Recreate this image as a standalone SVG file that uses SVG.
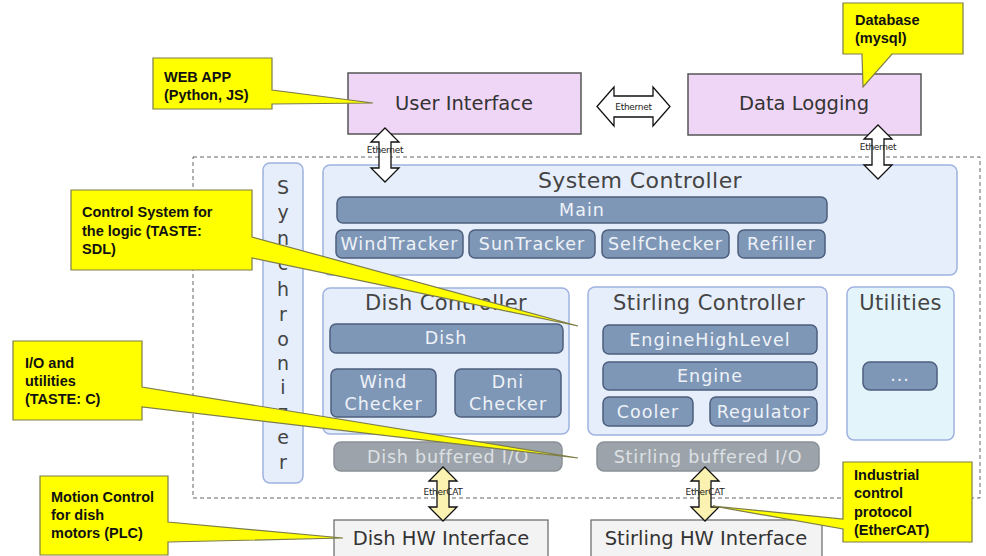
<svg xmlns="http://www.w3.org/2000/svg" xmlns:xlink="http://www.w3.org/1999/xlink" width="986" height="556" viewBox="0 0 986 556">
  <style>
    text { font-family: "DejaVu Sans", Verdana, sans-serif; }
    .app { fill: #f0d6f6; stroke: #555; stroke-width: 1.5; }
    .appText { font-size: 19.5px; fill: #333; text-anchor: middle; }
    .group { fill: #e6eefb; stroke: #9fb2e0; stroke-width: 1.5; }
    .util { fill: #e3f5fa; stroke: #9fb2e0; stroke-width: 1.5; }
    .title { font-size: 21px; fill: #444; text-anchor: middle; letter-spacing: 0.4px; }
    .bar { fill: #7f97b7; stroke: #4d5f7d; stroke-width: 1.5; }
    .barText { font-size: 17.5px; fill: #eef2f8; text-anchor: middle; letter-spacing: 1px; }
    .io { fill: #9da3aa; stroke: #8b9197; stroke-width: 1.5; }
    .ioText { font-size: 17.5px; fill: #dde1e5; text-anchor: middle; letter-spacing: 0.8px; }
    .hw { fill: #f3f3f3; stroke: #666; stroke-width: 1.2; }
    .hwText { font-size: 19.5px; fill: #333; text-anchor: middle; }
    .sync { font-size: 19px; fill: #444; text-anchor: middle; }
    .boundary { fill: none; stroke: #666; stroke-width: 1; stroke-dasharray: 4 3; }
    .eth { fill: #ffffff; stroke: #111; stroke-width: 1.3; }
    .cat { fill: #fbf2b2; stroke: #111; stroke-width: 1.3; }
    .linkLabel { font-size: 9px; fill: #222; text-anchor: middle; letter-spacing: -0.3px; }
    .note { fill: #ffff00; stroke: #7d7d4a; stroke-width: 1.2; stroke-linejoin: miter; }
    .noteText { font-family: "Liberation Sans", Arial, sans-serif; font-weight: bold; font-size: 14.5px; fill: #111; }
  </style>
  <defs>
    <!-- vertical two-way block arrow, 54 px long, centred on x=0 -->
    <path id="vArrow" d="M0,0 L14,14 L6,14 L6,40 L14,40 L0,54 L-14,40 L-6,40 L-6,14 L-14,14 Z"/>
  </defs>

  <rect width="986" height="556" fill="#ffffff"/>

  <!-- on-board software boundary -->
  <rect class="boundary" x="193" y="157" width="787" height="341"/>

  <!-- applications -->
  <g id="user-interface">
    <rect class="app" x="348" y="73" width="233" height="61"/>
    <text class="appText" x="464" y="110">User Interface</text>
  </g>
  <g id="data-logging">
    <rect class="app" x="688" y="74" width="233" height="61"/>
    <text class="appText" x="804" y="110">Data Logging</text>
  </g>

  <!-- synchronizer column -->
  <g id="synchronizer">
    <rect class="group" x="263" y="163" width="40" height="320" rx="7"/>
    <text class="sync" x="283" y="194">S</text>
    <text class="sync" x="283" y="219">y</text>
    <text class="sync" x="283" y="245">n</text>
    <text class="sync" x="283" y="270">c</text>
    <text class="sync" x="283" y="296">h</text>
    <text class="sync" x="283" y="321">r</text>
    <text class="sync" x="283" y="346">o</text>
    <text class="sync" x="283" y="370">n</text>
    <text class="sync" x="283" y="394">i</text>
    <text class="sync" x="283" y="419">z</text>
    <text class="sync" x="283" y="444">e</text>
    <text class="sync" x="283" y="469">r</text>
  </g>

  <!-- system controller -->
  <g id="system-controller">
    <rect class="group" x="323" y="165" width="634" height="110" rx="7"/>
    <text class="title" x="640" y="188" style="font-size:22px">System Controller</text>
    <g id="main">
      <rect class="bar" x="337" y="197" width="490" height="26" rx="6"/>
      <text class="barText" x="582" y="216">Main</text>
    </g>
    <g id="wind-tracker">
      <rect class="bar" x="336" y="230" width="127" height="28" rx="6"/>
      <text class="barText" x="399.5" y="250">WindTracker</text>
    </g>
    <g id="sun-tracker">
      <rect class="bar" x="469" y="230" width="126" height="28" rx="6"/>
      <text class="barText" x="532" y="250">SunTracker</text>
    </g>
    <g id="self-checker">
      <rect class="bar" x="602" y="230" width="127" height="28" rx="6"/>
      <text class="barText" x="665.5" y="250">SelfChecker</text>
    </g>
    <g id="refiller">
      <rect class="bar" x="738" y="230" width="87" height="28" rx="6"/>
      <text class="barText" x="781.5" y="250">Refiller</text>
    </g>
  </g>

  <!-- dish controller -->
  <g id="dish-controller">
    <rect class="group" x="323" y="288" width="246" height="146" rx="7"/>
    <text class="title" x="446" y="310">Dish Controller</text>
    <g id="dish">
      <rect class="bar" x="330" y="324" width="233" height="29" rx="6"/>
      <text class="barText" x="446" y="344">Dish</text>
    </g>
    <g id="wind-checker">
      <rect class="bar" x="331" y="369" width="105" height="48" rx="6"/>
      <text class="barText" x="383.5" y="388">Wind</text>
      <text class="barText" x="383.5" y="410">Checker</text>
    </g>
    <g id="dni-checker">
      <rect class="bar" x="455" y="369" width="106" height="48" rx="6"/>
      <text class="barText" x="508" y="388">Dni</text>
      <text class="barText" x="508" y="410">Checker</text>
    </g>
  </g>
  <g id="dish-buffered-io">
    <rect class="io" x="334" y="442" width="228" height="29" rx="7"/>
    <text class="ioText" x="448" y="463">Dish buffered I/O</text>
  </g>

  <!-- stirling controller -->
  <g id="stirling-controller">
    <rect class="group" x="588" y="287" width="239" height="148" rx="7"/>
    <text class="title" x="709" y="310">Stirling Controller</text>
    <g id="engine-high-level">
      <rect class="bar" x="603" y="325" width="214" height="29" rx="6"/>
      <text class="barText" x="710" y="346">EngineHighLevel</text>
    </g>
    <g id="engine">
      <rect class="bar" x="603" y="362" width="214" height="28" rx="6"/>
      <text class="barText" x="710" y="382">Engine</text>
    </g>
    <g id="cooler">
      <rect class="bar" x="603" y="397" width="90" height="29" rx="6"/>
      <text class="barText" x="648" y="418">Cooler</text>
    </g>
    <g id="regulator">
      <rect class="bar" x="710" y="397" width="107" height="29" rx="6"/>
      <text class="barText" x="763.5" y="418">Regulator</text>
    </g>
  </g>
  <g id="stirling-buffered-io">
    <rect class="io" x="597" y="442" width="222" height="29" rx="7"/>
    <text class="ioText" x="708" y="463">Stirling buffered I/O</text>
  </g>

  <!-- utilities -->
  <g id="utilities">
    <rect class="util" x="847" y="287" width="107" height="153" rx="7"/>
    <text class="title" x="900.5" y="310">Utilities</text>
    <g id="utility-more">
      <rect class="bar" x="863" y="362" width="74" height="28" rx="7"/>
      <text class="barText" x="900" y="381">...</text>
    </g>
  </g>

  <!-- hardware interfaces -->
  <g id="dish-hw-interface">
    <rect class="hw" x="334" y="520" width="214" height="40"/>
    <text class="hwText" x="441" y="545">Dish HW Interface</text>
  </g>
  <g id="stirling-hw-interface">
    <rect class="hw" x="591" y="520" width="231" height="40"/>
    <text class="hwText" x="706" y="545">Stirling HW Interface</text>
  </g>

  <!-- links -->
  <g id="connectors">
    <path class="eth" d="M597,106.5 L614,87 L614,96 L653,96 L653,87 L670,106.5 L653,126 L653,117 L614,117 L614,126 Z"/>
    <text class="linkLabel" x="633.5" y="110">Ethernet</text>

    <use xlink:href="#vArrow" class="eth" x="385" y="128"/>
    <text class="linkLabel" x="385" y="153">Ethernet</text>

    <use xlink:href="#vArrow" class="eth" x="878" y="125"/>
    <text class="linkLabel" x="878" y="150">Ethernet</text>

    <use xlink:href="#vArrow" class="cat" x="443" y="467"/>
    <text class="linkLabel" x="443" y="495">EtherCAT</text>

    <use xlink:href="#vArrow" class="cat" x="705" y="467"/>
    <text class="linkLabel" x="705" y="495">EtherCAT</text>
  </g>

  <!-- annotation callouts -->
  <g id="note-web-app">
    <path class="note" d="M153,58 H272 V90 L373,103 L272,104 V109 H153 Z"/>
    <text class="noteText" x="164" y="82">WEB APP</text>
    <text class="noteText" x="164" y="100">(Python, JS)</text>
  </g>
  <g id="note-database">
    <path class="note" d="M843,3 H963 V54 H892 L863,87 L862,54 H843 Z"/>
    <text class="noteText" x="855" y="25">Database</text>
    <text class="noteText" x="855" y="43">(mysql)</text>
  </g>
  <g id="note-control-system">
    <path class="note" d="M71,190 H252 V237 L578,326 L252,258 V270 H71 Z"/>
    <text class="noteText" x="82" y="217">Control System for</text>
    <text class="noteText" x="82" y="236">the logic (TASTE:</text>
    <text class="noteText" x="82" y="254">SDL)</text>
  </g>
  <g id="note-io-utilities">
    <path class="note" d="M13,341 H142 V387 L578,458 L142,407 V420 H13 Z"/>
    <text class="noteText" x="25" y="368">I/O and</text>
    <text class="noteText" x="25" y="386">utilities</text>
    <text class="noteText" x="25" y="404">(TASTE: C)</text>
  </g>
  <g id="note-motion-control">
    <path class="note" d="M40,476 H168 V522 L343,538 L168,542 V555 H40 Z"/>
    <text class="noteText" x="51" y="502">Motion Control</text>
    <text class="noteText" x="51" y="520">for dish</text>
    <text class="noteText" x="51" y="538">motors (PLC)</text>
  </g>
  <g id="note-ethercat">
    <path class="note" d="M843,462 H972 V542 H843 V529 L713,506 L843,519 Z"/>
    <text class="noteText" x="854" y="480">Industrial</text>
    <text class="noteText" x="854" y="498">control</text>
    <text class="noteText" x="854" y="517">protocol</text>
    <text class="noteText" x="854" y="535">(EtherCAT)</text>
  </g>
</svg>
